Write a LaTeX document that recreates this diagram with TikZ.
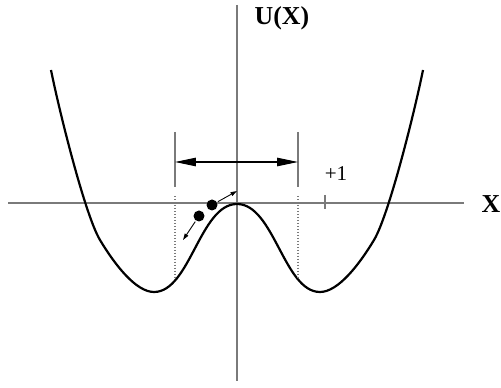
\documentclass[tikz,border=0pt]{standalone}
\usepackage{fontspec}
\setmainfont{Liberation Serif}
\usetikzlibrary{arrows.meta,positioning}
\definecolor{axisGray}{HTML}{7A7A7A}
\tikzset{
    axisline/.style={draw=axisGray, line width=0.85pt},
    guideline/.style={draw=axisGray, line width=0.85pt},
    dotline/.style={draw=axisGray, line width=0.6pt, dash pattern=on 0.6pt off 1.1pt},
    potential/.style={draw=black, line width=1.25pt, line join=round},
    span/.style={draw=black, line width=0.6pt, {Triangle[length=0.42cm,width=0.17cm]}-{Triangle[length=0.42cm,width=0.17cm]}},
    kick/.style={draw=black, line width=0.5pt, -{Triangle[length=0.13cm,width=0.08cm]}, shorten <=0.5pt},
    ball/.style={circle, fill=black, inner sep=0pt, minimum size=0.22cm},
    axislabel/.style={font=\fontsize{14.7}{16}\selectfont\bfseries, inner sep=0pt}
}

\begin{document}
\begin{tikzpicture}[x=0.02cm, y=-0.02cm]
    \useasboundingbox (0,0) rectangle (501,388);

    % Axes
    \coordinate (xl) at (8,203);
    \coordinate (xr) at (464,203);
    \coordinate (yt) at (237,5);
    \coordinate (yb) at (237,381);
    \draw[axisline] (xl) -- (xr);
    \draw[axisline] (yt) -- (yb);
    \node[axislabel] (xlab) at (491,204) {X};
    \node[axislabel] (ulab) at (282,18) {U(X)};

    % Tick at +1
    \coordinate (tt) at (325,195);
    \coordinate (tb) at (325,209);
    \draw[axisline] (tt) -- (tb);
    \node[font=\fontsize{12}{14}\selectfont, inner sep=0pt] (one) at (336,174) {+1};

    % Double well
    \draw[potential] (51,70) .. controls (59,110) and (85,215) .. (100,240)
        .. controls (115,265) and (136,292) .. (154,292)
        .. controls (190,292) and (200,204) .. (237,204)
        .. controls (274,204) and (284,292) .. (320,292)
        .. controls (338,292) and (359,265) .. (374,240)
        .. controls (389,215) and (415,110) .. (423,70);

    % Barrier width
    \coordinate (lt) at (175,132);
    \coordinate (lb) at (175,187);
    \coordinate (rt) at (298,132);
    \coordinate (rb) at (298,187);
    \draw[guideline] (lt) -- (lb);
    \draw[guideline] (rt) -- (rb);
    \coordinate (ld) at (175,196);
    \coordinate (lw) at (175,279);
    \coordinate (rd) at (298,196);
    \coordinate (rw) at (298,279);
    \draw[dotline] (ld) -- (lw);
    \draw[dotline] (rd) -- (rw);
    \coordinate (al) at (175,162);
    \coordinate (ar) at (298,162);
    \draw[span] (al) -- (ar);

    % Particles
    \node[ball] (b1) at (199,216) {};
    \node[ball] (b2) at (212,205) {};
    \coordinate (kl) at (183,240);
    \coordinate (kr) at (237,191);
    \draw[kick] (b1) -- (kl);
    \draw[kick] (b2) -- (kr);

\end{tikzpicture}
\end{document}
